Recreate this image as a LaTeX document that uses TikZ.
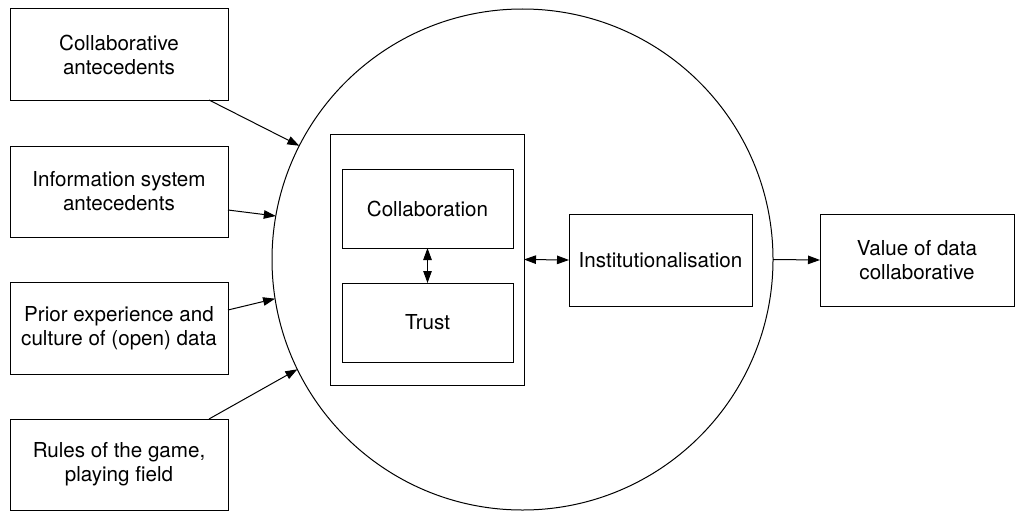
\documentclass[tikz,border=0pt]{standalone}
\usepackage{fontspec}
\setmainfont{TeX Gyre Heros}
\usetikzlibrary{arrows.meta}
\begin{document}
\begin{tikzpicture}[x=1pt,y=-1pt,
  every node/.style={inner sep=0pt,outer sep=0pt},
  box/.style={draw,line width=1pt,rectangle,align=center,
    font=\fontsize{20.6pt}{24pt}\selectfont},
  tip/.style={Triangle[length=12pt,width=8.5pt]},
  conn/.style={line width=1pt,-{Triangle[length=12pt,width=8.5pt]}},
  biconn/.style={line width=1pt,{Triangle[length=12pt,width=8.5pt]}-{Triangle[length=12pt,width=8.5pt]}}]
\useasboundingbox (0,0) rectangle (1024,511);

% surrounding process circle
\node[draw,line width=1pt,circle,minimum size=501pt] (c) at (522.5,259.5) {};

% antecedent boxes on the left
\node[box,minimum width=218pt,minimum height=91pt] (b1) at (119,54.5) {Collaborative\\antecedents};
\node[box,minimum width=218pt,minimum height=91pt] (b2) at (119,191.5) {Information system\\antecedents};
\node[box,minimum width=218pt,minimum height=92pt] (b3) at (119,328) {Prior experience and\\culture of (open) data};
\node[box,minimum width=218pt,minimum height=91pt] (b4) at (119,464.5) {Rules of the game,\\playing field};

% core of the circle
\node[draw,line width=1pt,minimum width=194pt,minimum height=251pt] (core) at (427,259.5) {};
\node[box,minimum width=171pt,minimum height=79pt] (collab) at (427.5,208.5) {Collaboration};
\node[box,minimum width=171pt,minimum height=79pt] (trust) at (427.5,322.5) {Trust};
\node[box,minimum width=183pt,minimum height=92pt] (inst) at (660.5,260) {Institutionalisation};

% outcome
\node[box,minimum width=194pt,minimum height=92pt] (val) at (917,260) {Value of data\\collaborative};

% connectors
\draw[conn] ([xshift=90pt]b1.south) -- (c.153.2);
\draw[conn] ([yshift=-18.5pt]b2.east) -- (c.170.5);
\draw[conn] ([yshift=18pt]b3.east) -- (c.189.7);
\draw[conn] ([xshift=90pt]b4.north) -- (c.206.8);
\draw[biconn] (collab.south) -- (trust.north);
\draw[biconn] (core.east) -- (inst.west);
\draw[conn] (c.0) -- (val.west);
\end{tikzpicture}
\end{document}
